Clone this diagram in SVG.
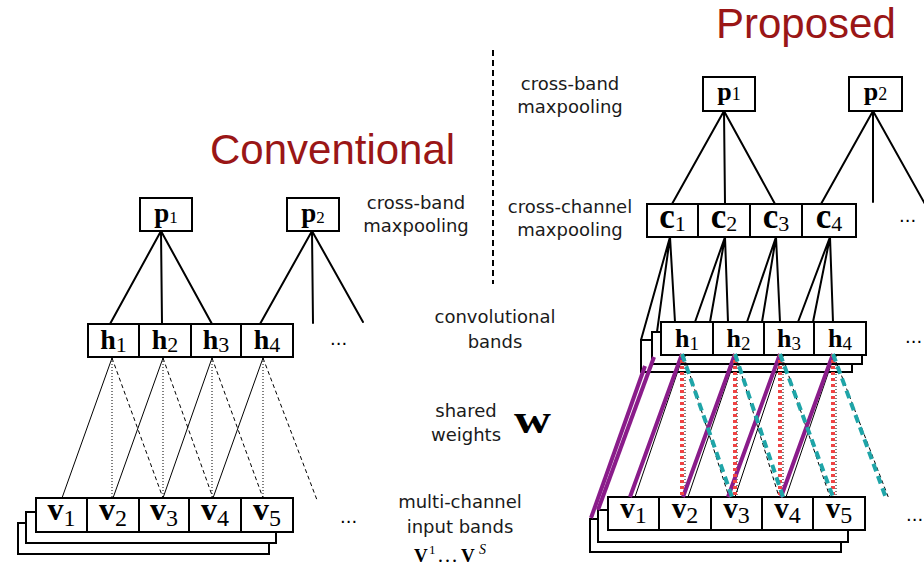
<svg xmlns="http://www.w3.org/2000/svg" width="924" height="569" viewBox="0 0 924 569">
<style>
.box{fill:#fff;stroke:#000;stroke-width:2}
.edge{stroke:#000;stroke-width:2;fill:none;stroke-linecap:round}
.thin{stroke:#000;stroke-width:1;fill:none}
.dot{stroke-dasharray:1 2}
.dash{stroke-dasharray:4 3}
.pur{stroke:#8a1c8a;stroke-width:4;fill:none}
.red{stroke:#ef4444;stroke-width:4;fill:none;stroke-dasharray:3 3}
.teal{stroke:#1fa5a8;stroke-width:4;fill:none;stroke-dasharray:8 5}
.lbl{font-family:"DejaVu Sans",sans-serif;font-size:18px;fill:#1a1a1a;text-anchor:middle}
.math{font-family:"Liberation Serif",serif;font-weight:bold;text-anchor:middle;fill:#000}
.sub{font-weight:normal}
.title{font-family:"Liberation Sans",sans-serif;font-size:42px;fill:#9a1616}
.dots{font-family:"DejaVu Sans",sans-serif;font-size:18px;fill:#000}
</style>

<!-- titles and labels -->
<text class="title" x="210" y="164">Conventional</text>
<text class="title" x="716" y="38">Proposed</text>
<line x1="493" y1="50" x2="493" y2="284" stroke="#000" stroke-width="2" stroke-dasharray="6 4"/>

<text class="lbl" x="416" y="209">cross-band</text>
<text class="lbl" x="416" y="232">maxpooling</text>
<text class="lbl" x="570" y="90">cross-band</text>
<text class="lbl" x="570" y="113">maxpooling</text>
<text class="lbl" x="570" y="213">cross-channel</text>
<text class="lbl" x="570" y="236">maxpooling</text>
<text class="lbl" x="495" y="323">convolutional</text>
<text class="lbl" x="495" y="348">bands</text>
<text class="lbl" x="466" y="417">shared</text>
<text class="lbl" x="466" y="441">weights</text>
<text x="514" y="433" font-family="Liberation Serif, serif" font-weight="bold" font-size="40" textLength="37" lengthAdjust="spacingAndGlyphs">w</text>
<text class="lbl" x="460" y="508">multi-channel</text>
<text class="lbl" x="460" y="533">input bands</text>
<text y="562" font-family="Liberation Serif, serif" font-size="19"><tspan x="414" font-weight="bold">V</tspan><tspan x="429" font-size="13" dy="-8">1</tspan><tspan x="437" dy="8" font-size="21">…</tspan><tspan x="461" font-weight="bold">V</tspan><tspan x="479" font-size="14" font-style="italic" dy="-8">S</tspan></text>

<!-- ===== Conventional nodes ===== -->
<g id="conv-p1"><rect class="box" x="140" y="198" width="52" height="33"/><text class="math" x="166" y="222" font-size="27">p<tspan class="sub" font-size="17" dy="1">1</tspan></text></g>
<g id="conv-p2"><rect class="box" x="287" y="198" width="52" height="33"/><text class="math" x="313" y="222" font-size="27">p<tspan class="sub" font-size="17" dy="1">2</tspan></text></g>

<g id="conv-h">
<rect class="box" x="88" y="324" width="51" height="33"/>
<rect class="box" x="139" y="324" width="52" height="33"/>
<rect class="box" x="191" y="324" width="50" height="33"/>
<rect class="box" x="241" y="324" width="52" height="33"/>
<text class="math" x="113.5" y="349" font-size="28">h<tspan class="sub" font-size="22" dy="3">1</tspan></text>
<text class="math" x="165" y="349" font-size="28">h<tspan class="sub" font-size="22" dy="3">2</tspan></text>
<text class="math" x="216" y="349" font-size="28">h<tspan class="sub" font-size="22" dy="3">3</tspan></text>
<text class="math" x="267" y="349" font-size="28">h<tspan class="sub" font-size="22" dy="3">4</tspan></text>
<text class="dots" x="330" y="345">...</text>
</g>

<g id="conv-v">
<rect class="box" x="18" y="523" width="251" height="31"/>
<rect class="box" x="26" y="512" width="250" height="31"/>
<rect class="box" x="36" y="498" width="51" height="34"/>
<rect class="box" x="87" y="498" width="52" height="34"/>
<rect class="box" x="139" y="498" width="50" height="34"/>
<rect class="box" x="189" y="498" width="52" height="34"/>
<rect class="box" x="241" y="498" width="52" height="34"/>
<text class="math" x="61.5" y="520" font-size="32">v<tspan class="sub" font-size="24" dy="6">1</tspan></text>
<text class="math" x="113" y="520" font-size="32">v<tspan class="sub" font-size="24" dy="6">2</tspan></text>
<text class="math" x="164" y="520" font-size="32">v<tspan class="sub" font-size="24" dy="6">3</tspan></text>
<text class="math" x="215" y="520" font-size="32">v<tspan class="sub" font-size="24" dy="6">4</tspan></text>
<text class="math" x="267" y="520" font-size="32">v<tspan class="sub" font-size="24" dy="6">5</tspan></text>
<text class="dots" x="340" y="523">...</text>
</g>

<!-- ===== Proposed nodes ===== -->
<g id="prop-p1"><rect class="box" x="703" y="77" width="52" height="34"/><text class="math" x="729" y="100" font-size="26">p<tspan class="sub" font-size="18">1</tspan></text></g>
<g id="prop-p2"><rect class="box" x="849" y="77" width="53" height="34"/><text class="math" x="875.5" y="100" font-size="26">p<tspan class="sub" font-size="18">2</tspan></text></g>

<g id="prop-c">
<rect class="box" x="647" y="204" width="51" height="33"/>
<rect class="box" x="698" y="204" width="52" height="33"/>
<rect class="box" x="750" y="204" width="52" height="33"/>
<rect class="box" x="802" y="204" width="54" height="33"/>
<text class="math" x="672.5" y="228" font-size="35">c<tspan class="sub" font-size="22" dy="3">1</tspan></text>
<text class="math" x="724" y="228" font-size="35">c<tspan class="sub" font-size="22" dy="3">2</tspan></text>
<text class="math" x="776" y="228" font-size="35">c<tspan class="sub" font-size="22" dy="3">3</tspan></text>
<text class="math" x="829" y="228" font-size="35">c<tspan class="sub" font-size="22" dy="3">4</tspan></text>
<text class="dots" x="899" y="222">...</text>
</g>

<g id="prop-h">
<rect class="box" x="641" y="340" width="211" height="32"/>
<rect class="box" x="652" y="332" width="210" height="32"/>
<rect class="box" x="661" y="322" width="52" height="33"/>
<rect class="box" x="713" y="322" width="51" height="33"/>
<rect class="box" x="764" y="322" width="50" height="33"/>
<rect class="box" x="814" y="322" width="52" height="33"/>
<text class="math" x="687" y="347" font-size="26">h<tspan class="sub" font-size="19" dy="3">1</tspan></text>
<text class="math" x="738.5" y="347" font-size="26">h<tspan class="sub" font-size="19" dy="3">2</tspan></text>
<text class="math" x="789" y="347" font-size="26">h<tspan class="sub" font-size="19" dy="3">3</tspan></text>
<text class="math" x="840" y="347" font-size="26">h<tspan class="sub" font-size="19" dy="3">4</tspan></text>
<text class="dots" x="905" y="343">...</text>
</g>

<g id="prop-v">
<rect class="box" x="590" y="519" width="251" height="33"/>
<rect class="box" x="598" y="510" width="250" height="32"/>
<rect class="box" x="608" y="497" width="51" height="33"/>
<rect class="box" x="659" y="497" width="52" height="33"/>
<rect class="box" x="711" y="497" width="51" height="33"/>
<rect class="box" x="762" y="497" width="51" height="33"/>
<rect class="box" x="813" y="497" width="52" height="33"/>
<text class="math" x="633.5" y="518" font-size="29">v<tspan class="sub" font-size="24" dy="5">1</tspan></text>
<text class="math" x="685" y="518" font-size="29">v<tspan class="sub" font-size="24" dy="5">2</tspan></text>
<text class="math" x="736.5" y="518" font-size="29">v<tspan class="sub" font-size="24" dy="5">3</tspan></text>
<text class="math" x="787.5" y="518" font-size="29">v<tspan class="sub" font-size="24" dy="5">4</tspan></text>
<text class="math" x="839" y="518" font-size="29">v<tspan class="sub" font-size="24" dy="5">5</tspan></text>
<text class="dots" x="906" y="521">...</text>
</g>

<!-- ===== Connectors ===== -->
<g id="connectors">
<!-- conventional pooling -->
<path class="edge" d="M161,231L110,324M161,231L162,324M161,231L212,324M312,231L260,324M312,231L313,323M312,231L363,322"/>
<!-- conventional weights -->
<path class="thin" d="M112,358L62,498M163,358L113,498M212,358L163,498M263,358L213,498"/>
<path class="thin dot" d="M112,358L112,498M163,358L163,498M212,358L212,498M263,358L263,498"/>
<path class="thin dash" d="M112,358L163,498M163,358L213,498M212,358L263,498M263,358L317,500"/>

<!-- proposed pooling -->
<path class="edge" d="M724,111L672,204M724,111L725,204M724,111L775,204M873,111L821,204M873,111L873,202M873,111L925,204"/>
<!-- proposed cross-channel -->
<path class="edge" d="M670,237L675,322M670,237L657,332M670,237L641,340M725,237L728,322M725,237L710,322M725,237L695,322M776,237L780,322M776,237L762,322M776,237L747,322M830,237L833,322M830,237L813,322M830,237L798,322"/>
<!-- proposed weights: black base -->
<path class="thin" d="M683,356L635,497M736,356L688,497M782,356L735,497M834,356L786,497"/>
<path class="thin dot" d="M685,356L685,497M737,356L737,497M783,356L783,497M836,356L836,497"/>
<path class="thin dash" d="M684,356L729,497M736,356L779,497M782,356L830,497M834,356L889,499"/>
<!-- coloured overlays -->
<path class="pur" d="M682,354L630,497M735,354L683,497M780,354L728,497M833,354L781,497"/>
<path class="pur" stroke-width="2.2" d="M654,357L598,510"/>
<path class="pur" stroke-width="1.2" d="M645,366L591,518"/>
<path class="red" d="M682,354L682,497M735,354L735,497M780,354L780,497M833,354L833,497"/>
<path class="teal" d="M682,354L732,497M735,354L783,497M780,354L833,497M833,354L886,498"/>
</g>
</svg>
